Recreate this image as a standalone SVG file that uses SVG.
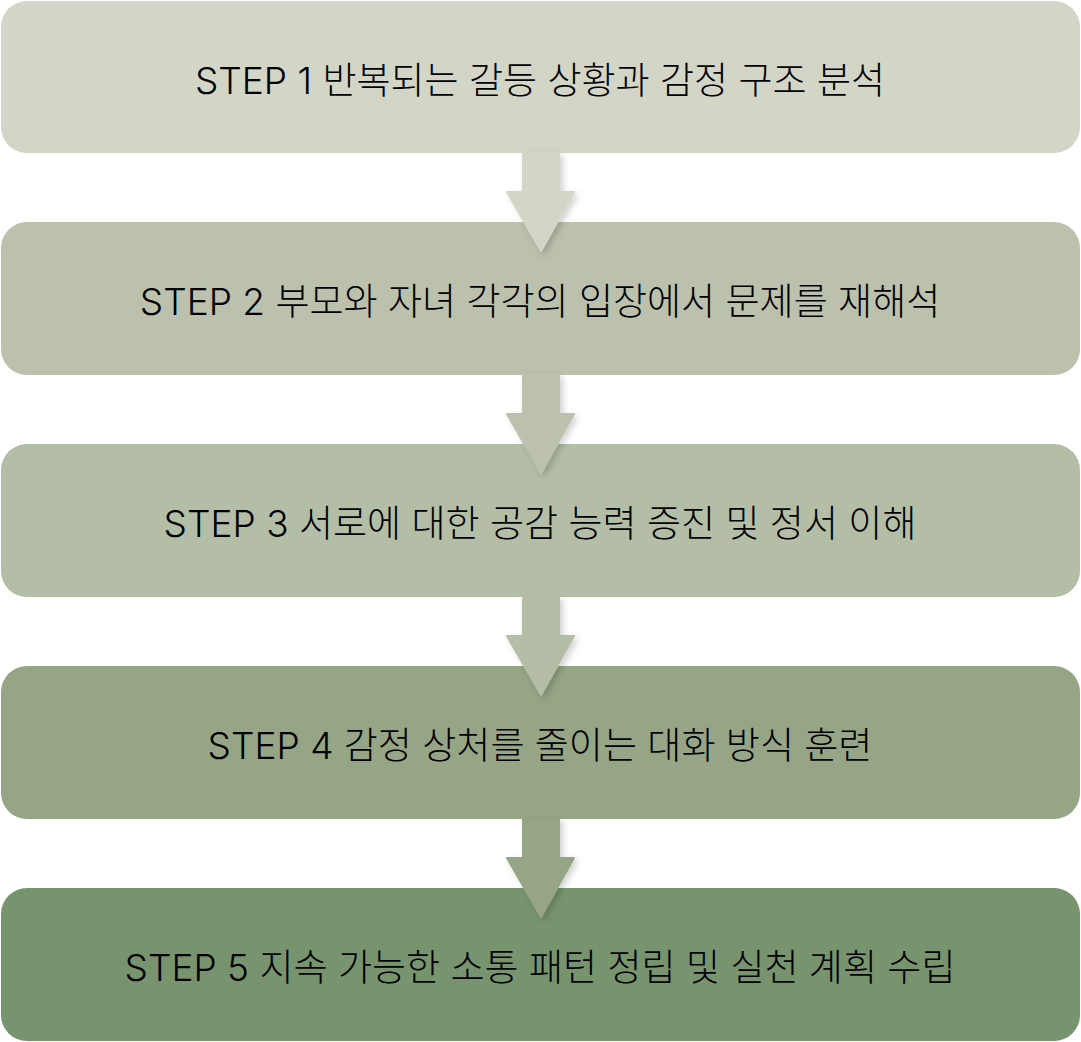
<svg xmlns="http://www.w3.org/2000/svg" width="1081" height="1042" viewBox="0 0 1081 1042">
<defs>
<style>
.box{stroke:none}
.lbl{font-family:"Inter","Noto Sans CJK KR",sans-serif;font-size:37px;font-weight:300;fill:#000;text-anchor:middle;dominant-baseline:central}
</style>
<filter id="sh" x="-20%" y="-20%" width="150%" height="150%">
<feDropShadow dx="3" dy="3" stdDeviation="3" flood-color="#000" flood-opacity="0.18"/>
</filter>
</defs>
<rect width="1081" height="1042" fill="#fff"/>
<g id="node1"><rect class="box" x="1" y="1" width="1079" height="152" rx="26" fill="#D3D5C6"/><text class="lbl" x="540" y="80">STEP 1 반복되는 갈등 상황과 감정 구조 분석</text></g>
<g id="node2"><rect class="box" x="1" y="222" width="1079" height="153" rx="26" fill="#BBC1AD"/><text class="lbl" x="540" y="301">STEP 2 부모와 자녀 각각의 입장에서 문제를 재해석</text></g>
<g id="node3"><rect class="box" x="1" y="444" width="1079" height="153" rx="26" fill="#B4BEA6"/><text class="lbl" x="540" y="523">STEP 3 서로에 대한 공감 능력 증진 및 정서 이해</text></g>
<g id="node4"><rect class="box" x="1" y="666" width="1079" height="153" rx="26" fill="#96A585"/><text class="lbl" x="540" y="745">STEP 4 감정 상처를 줄이는 대화 방식 훈련</text></g>
<g id="node5"><rect class="box" x="1" y="888" width="1079" height="153" rx="26" fill="#78946F"/><text class="lbl" x="540" y="967">STEP 5 지속 가능한 소통 패턴 정립 및 실천 계획 수립</text></g>
<g id="connectors" filter="url(#sh)" stroke-linejoin="round">
<path d="M523 153 H559 V192 H574 L541 251 L507 192 H523 Z" fill="#D3D5C6" stroke="#D3D5C6" stroke-width="2"/>
<path d="M523 375 H559 V414 H574 L541 473 L507 414 H523 Z" fill="#BBC1AD" stroke="#BBC1AD" stroke-width="2"/>
<path d="M523 597 H559 V636 H574 L541 695 L507 636 H523 Z" fill="#B4BEA6" stroke="#B4BEA6" stroke-width="2"/>
<path d="M523 819 H559 V858 H574 L541 917 L507 858 H523 Z" fill="#96A585" stroke="#96A585" stroke-width="2"/>
</g>
</svg>
